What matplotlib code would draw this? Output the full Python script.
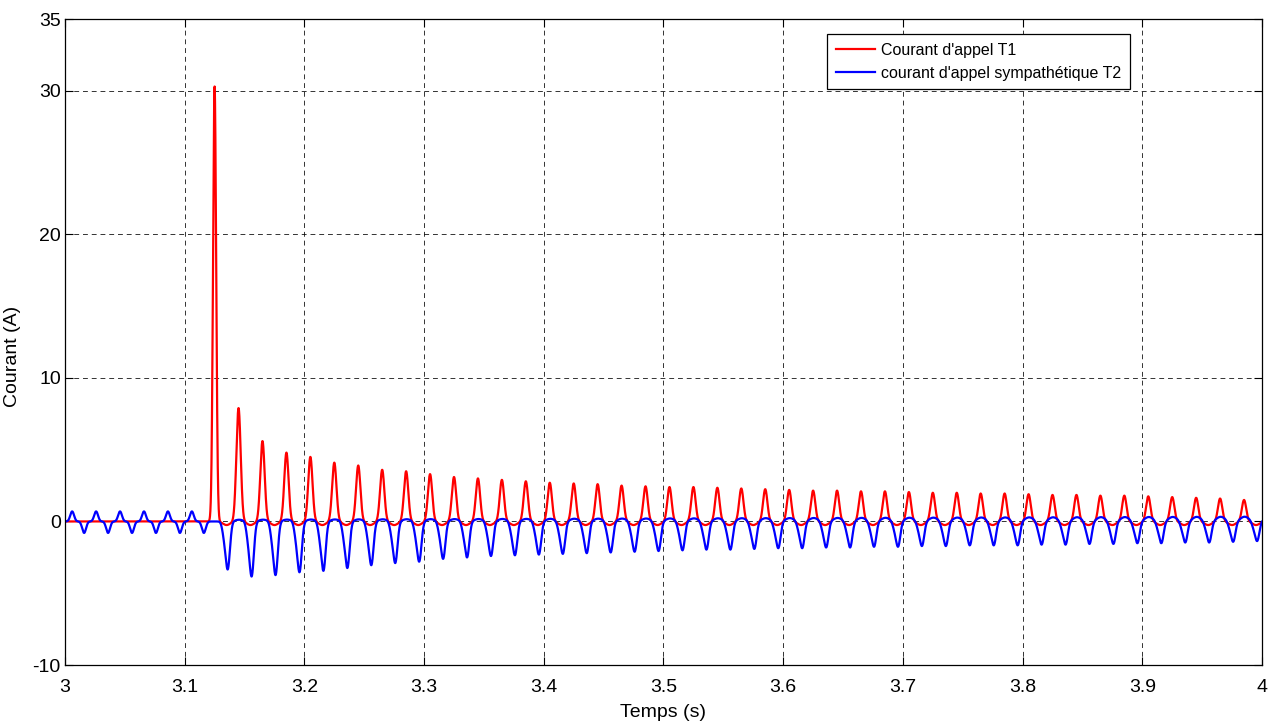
import numpy as np
import matplotlib.pyplot as plt
from matplotlib import font_manager

# ---- fonts: narrow sans if available ----
names = {f.name for f in font_manager.fontManager.ttflist}
base_font = "Liberation Sans Narrow" if "Liberation Sans Narrow" in names else "Liberation Sans"
plt.rcParams["font.family"] = [base_font, "DejaVu Sans"]
plt.rcParams["axes.unicode_minus"] = False

# ---- data ----
# red: inrush peaks of T1 (one per 50 Hz cycle), first one at 3.125 s
t1_first_peak = 3.125
t1_peaks = [30.3, 7.9, 5.6, 4.8, 4.5, 4.1, 3.9, 3.6, 3.5, 3.3, 3.1, 3.0, 2.9, 2.8, 2.7,
            2.65, 2.6, 2.5, 2.45, 2.4, 2.4, 2.35, 2.3, 2.25, 2.2, 2.15, 2.15, 2.1, 2.1,
            2.05, 2.0, 2.0, 1.95, 1.95, 1.9, 1.85, 1.85, 1.8, 1.8, 1.75, 1.7, 1.65, 1.6, 1.5]
# blue: sympathetic inrush dips of T2, first one at 3.136 s
t2_first_dip = 3.136
t2_dips = [-3.4, -3.9, -3.8, -3.6, -3.5, -3.3, -3.1, -2.95, -2.85, -2.65, -2.55, -2.45,
           -2.4, -2.35, -2.3, -2.25, -2.2, -2.15, -2.1, -2.05, -2.0, -2.0, -1.95, -1.9,
           -1.9, -1.85, -1.85, -1.8, -1.8, -1.75, -1.75, -1.7, -1.7, -1.7, -1.65, -1.65,
           -1.6, -1.6, -1.55, -1.55, -1.5, -1.5, -1.45, -1.4]
# blue before energisation: small magnetising current
t2_pre_pos = [0.7, 0.7, 0.7, 0.7, 0.7, 0.7]     # at 3.006 + k*0.02
t2_pre_neg = [-0.8, -0.8, -0.8, -0.8, -0.8, -0.8]  # at 3.016 + k*0.02
period = 0.02

# ---- build the waveforms ----
t = np.linspace(3.0, 4.0, 20001)
i1 = np.zeros_like(t)
i2 = np.zeros_like(t)

def bump(t0, amp, w):
    return amp * np.exp(-0.5 * ((t - t0) / w) ** 2)

for k, a in enumerate(t1_peaks):
    tp = t1_first_peak + k * period
    i1 += bump(tp, a, 0.0013 if k == 0 else 0.0018)
    i1 += bump(tp + 0.010, -0.25, 0.003)

for k, (p, n) in enumerate(zip(t2_pre_pos, t2_pre_neg)):
    i2 += bump(3.006 + k * period, p, 0.0016)
    i2 += bump(3.016 + k * period, n, 0.0016)

for k, a in enumerate(t2_dips):
    tp = t2_first_dip + k * period
    i2 += bump(tp, a * 0.96, 0.0018)
    i2 += bump(tp - 0.0032, a * 0.22, 0.0015)
    i2 += bump(tp + 0.0095, 0.12 + 0.005 * k, 0.0035)

# ---- plot ----
fig = plt.figure(figsize=(12.79, 7.26), dpi=100)
ax = fig.add_axes([0.0508, 0.084, 0.9359, 0.8898])

ax.plot(t, i1, color="#ff0000", lw=1.6, label="Courant d'appel T1")
ax.plot(t, i2, color="#0000ff", lw=1.6, label="courant d'appel sympathétique T2")

ax.set_xlim(3, 4)
ax.set_ylim(-10, 35)
ax.set_xticks(np.arange(3, 4.01, 0.1))
ax.set_xticklabels(["3", "3.1", "3.2", "3.3", "3.4", "3.5", "3.6", "3.7", "3.8", "3.9", "4"])
ax.set_yticks([-10, 0, 10, 20, 30, 35])
ax.tick_params(direction="in", top=True, right=True, labelsize=14, length=6)
ax.tick_params(axis="x", pad=10)
ax.tick_params(axis="y", pad=3)
ax.grid(True, color="black", linestyle=(0, (5, 4)), lw=0.7, alpha=0.8)
for s in ax.spines.values():
    s.set_linewidth(0.9)

ax.set_xlabel("Temps (s)", fontsize=14, labelpad=6)
ax.set_ylabel("Courant (A)", fontsize=14)
ax.yaxis.set_label_coords(-0.037, 0.477)

leg = ax.legend(loc="upper left", bbox_to_anchor=(0.637, 0.977), fontsize=11.5,
                fancybox=False, edgecolor="black", framealpha=1, borderpad=0.55,
                handlelength=2.4, handletextpad=0.4, labelspacing=0.5, borderaxespad=0)
leg.get_frame().set_linewidth(0.9)

fig.savefig("out.png", dpi=100)
